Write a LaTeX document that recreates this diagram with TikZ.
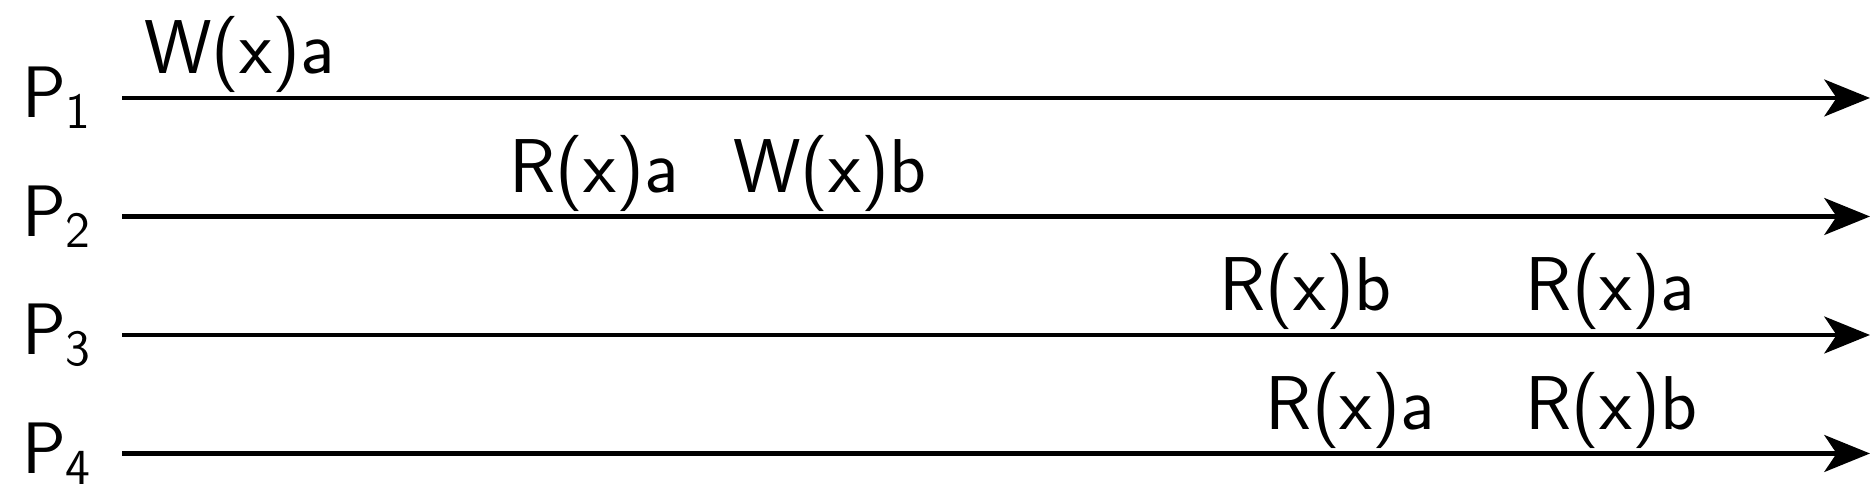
\documentclass[tikz,border=0pt]{standalone}
\usetikzlibrary{arrows.meta}
\tikzset{
  timeline/.style={very thick, -{Stealth[length=13pt,width=10.5pt,inset=3.5pt]}},
  proc/.style={anchor=east, inner sep=0pt},
  op/.style={anchor=base, inner sep=0pt},
}
\begin{document}
\begin{tikzpicture}[font=\sffamily\fontsize{21.7}{26}\selectfont]
            \useasboundingbox (0,0) rectangle (18.72,5.03);
            % ---------- P1 ----------
            \coordinate (s1) at (1.22,4.05);
            \coordinate (e1) at (18.70,4.05);
            \node[proc] (p1) at (0.93,4.05) {\(\mathsf{P_1}\)};
            \draw[timeline] (s1) -- (e1);
            \node[op] (w1a) at (2.395,4.29) {W(x)a};
            % ---------- P2 ----------
            \coordinate (s2) at (1.22,2.865);
            \coordinate (e2) at (18.70,2.865);
            \node[proc] (p2) at (0.93,2.865) {\(\mathsf{P_2}\)};
            \draw[timeline] (s2) -- (e2);
            \node[op] (r2a) at (5.94,3.105) {R(x)a};
            \node[op] (w2b) at (8.30,3.105) {W(x)b};
            % ---------- P3 ----------
            \coordinate (s3) at (1.22,1.68);
            \coordinate (e3) at (18.70,1.68);
            \node[proc] (p3) at (0.93,1.68) {\(\mathsf{P_3}\)};
            \draw[timeline] (s3) -- (e3);
            \node[op] (r3b) at (13.05,1.92) {R(x)b};
            \node[op] (r3a) at (16.105,1.92) {R(x)a};
            % ---------- P4 ----------
            \coordinate (s4) at (1.22,0.495);
            \coordinate (e4) at (18.70,0.495);
            \node[proc] (p4) at (0.93,0.495) {\(\mathsf{P_4}\)};
            \draw[timeline] (s4) -- (e4);
            \node[op] (r4a) at (13.505,0.735) {R(x)a};
            \node[op] (r4b) at (16.11,0.735) {R(x)b};
\end{tikzpicture}
\end{document}
